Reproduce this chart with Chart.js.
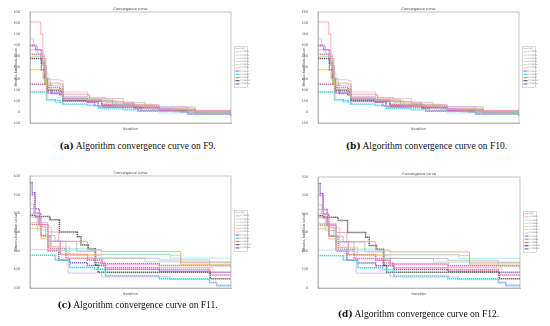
<!DOCTYPE html>
<html>
<head>
<meta charset="utf-8">
<script src="https://cdn.jsdelivr.net/npm/chart.js@4.4.1/dist/chart.umd.min.js"></script>
<style>
    body { margin: 0; background: #fff; width: 550px; height: 326px; position: relative; overflow: hidden; }
    canvas { position: absolute; }
    .caption { position: absolute; width: 275px; text-align: center; font-family: "Liberation Serif", "DejaVu Serif", serif; font-size: 9.5px; line-height: 12px; color: #111; }
    .caption b { font-family: "DejaVu Serif", serif; font-size: 9px; }
</style>
</head>
<body>
<canvas id="chartF9" width="275" height="135" style="left:0;top:0"></canvas>
<canvas id="chartF10" width="275" height="135" style="left:275px;top:0"></canvas>
<canvas id="chartF11" width="275" height="140" style="left:0;top:160px"></canvas>
<canvas id="chartF12" width="275" height="140" style="left:275px;top:160px"></canvas>
<div class="caption" style="left:0;top:140px"><b>(a)</b> Algorithm convergence curve on F9.</div>
<div class="caption" style="left:289px;top:140px"><b>(b)</b> Algorithm convergence curve on F10.</div>
<div class="caption" style="left:0;top:299px"><b>(c)</b> Algorithm convergence curve on F11.</div>
<div class="caption" style="left:281px;top:308px"><b>(d)</b> Algorithm convergence curve on F12.</div>
<script>
// Series names shared by all four panels
const seriesNames = ["PSO", "CTPSO1", "CTPSO2", "CTPSO3", "CTPSO4", "CTPSO5", "CTPSO6",
    "CTPSO7", "CTPSO8", "CTPSO9", "CTPSO10", "CTPSO11"];
const xTicks = [50, 100, 150, 200, 250, 300];

// Step points [iteration, best fitness] per series
const f9Steps = [
    [[20,560],[30,560],[36,480],[42,300],[48,200],[66,120],[100,100],[135,60],[170,30],[220,0],[300,-10]],
    [[20,810],[33,810],[35,700],[38,450],[42,300],[45,260],[62,250],[66,160],[100,150],[103,110],[120,95],[150,75],[165,60],[200,35],[250,10],[300,0]],
    [[20,500],[34,500],[38,420],[42,250],[50,200],[66,130],[100,115],[135,70],[190,30],[240,0],[300,-15]],
    [[20,175],[40,175],[44,100],[55,85],[66,65],[100,55],[120,25],[150,15],[200,-10],[300,-20]],
    [[20,590],[30,560],[36,520],[40,350],[45,290],[62,280],[66,180],[100,160],[103,120],[150,90],[165,65],[200,45],[250,15],[300,0]],
    [[20,380],[32,380],[38,300],[43,200],[62,190],[66,120],[100,100],[140,55],[190,20],[250,-5],[300,-20]],
    [[20,660],[25,600],[30,530],[37,420],[43,240],[62,230],[66,140],[100,130],[125,85],[180,45],[240,10],[300,-10]],
    [[20,250],[40,250],[43,200],[50,165],[62,155],[66,95],[100,85],[110,55],[120,45],[165,35],[170,15],[230,0],[300,-30]],
    [[20,180],[40,180],[43,110],[55,100],[62,85],[66,70],[100,60],[115,35],[150,25],[170,5],[240,-15],[300,-35]],
    [[20,520],[35,500],[40,300],[44,220],[62,210],[66,120],[100,105],[120,70],[165,50],[200,20],[250,0],[300,-25]],
    [[20,480],[30,480],[36,380],[41,250],[45,190],[62,180],[66,105],[100,95],[120,60],[165,40],[200,15],[250,-10],[300,-30]],
    [[20,600],[28,560],[36,440],[40,300],[44,170],[62,160],[66,100],[100,90],[115,45],[170,35],[175,10],[240,-20],[300,-35]]
];
const f10Steps = [
    [[20,840],[30,840],[36,720],[42,450],[48,300],[66,180],[100,150],[135,90],[170,45],[220,0],[300,-15]],
    [[20,1215],[33,1215],[35,1050],[38,675],[42,450],[45,390],[62,375],[66,240],[100,225],[103,165],[120,140],[150,110],[165,90],[200,50],[250,15],[300,0]],
    [[20,750],[34,750],[38,630],[42,375],[50,300],[66,195],[100,170],[135,105],[190,45],[240,0],[300,-20]],
    [[20,260],[40,260],[44,150],[55,130],[66,100],[100,80],[120,40],[150,20],[200,-15],[300,-30]],
    [[20,885],[30,840],[36,780],[40,525],[45,435],[62,420],[66,270],[100,240],[103,180],[150,135],[165,100],[200,70],[250,20],[300,0]],
    [[20,570],[32,570],[38,450],[43,300],[62,285],[66,180],[100,150],[140,80],[190,30],[250,-10],[300,-30]],
    [[20,990],[25,900],[30,795],[37,630],[43,360],[62,345],[66,210],[100,195],[125,130],[180,70],[240,15],[300,-15]],
    [[20,375],[40,375],[43,300],[50,250],[62,230],[66,140],[100,130],[110,80],[120,70],[165,50],[170,20],[230,0],[300,-45]],
    [[20,270],[40,270],[43,165],[55,150],[62,130],[66,105],[100,90],[115,50],[150,40],[170,10],[240,-20],[300,-50]],
    [[20,780],[35,750],[40,450],[44,330],[62,315],[66,180],[100,160],[120,105],[165,75],[200,30],[250,0],[300,-40]],
    [[20,720],[30,720],[36,570],[41,375],[45,285],[62,270],[66,160],[100,140],[120,90],[165,60],[200,20],[250,-15],[300,-45]],
    [[20,900],[28,840],[36,660],[40,450],[44,255],[62,240],[66,150],[100,135],[115,70],[170,50],[175,15],[240,-30],[300,-50]]
];
const f11Steps = [
    [[20,1050],[27,950],[33,860],[42,760],[55,700],[85,590],[112,520],[200,500],[270,480],[300,480]],
    [[20,960],[32,880],[45,800],[60,700],[100,610],[120,590],[230,470],[300,470]],
    [[20,900],[30,820],[45,700],[70,620],[110,520],[180,480],[270,440],[300,440]],
    [[20,610],[48,610],[60,600],[120,560],[215,520],[300,520]],
    [[20,1100],[25,1000],[35,850],[50,640],[75,550],[120,450],[200,420],[275,340],[300,340]],
    [[20,840],[28,840],[35,730],[45,640],[62,560],[215,550],[230,450],[300,450]],
    [[20,1000],[30,900],[45,600],[73,360],[120,320],[215,290],[270,255],[280,220],[300,220]],
    [[20,1200],[27,1050],[33,880],[45,700],[62,560],[100,500],[120,460],[200,440],[300,410]],
    [[20,550],[45,550],[55,500],[75,420],[110,400],[125,330],[200,300],[270,260],[280,230],[300,230]],
    [[20,880],[35,760],[48,620],[70,520],[110,470],[125,420],[200,400],[270,340],[300,330]],
    [[20,980],[28,965],[48,930],[61,800],[86,750],[91,660],[101,620],[111,445],[115,370],[271,300],[300,300]],
    [[20,1330],[23,1220],[27,1000],[35,760],[45,600],[60,500],[75,470],[100,440],[125,400],[200,380],[272,370],[300,370]]
];
const f12Steps = [
    [[20,850],[27,750],[33,660],[42,560],[55,500],[85,390],[112,320],[200,300],[270,280],[300,280]],
    [[20,760],[32,680],[45,600],[60,500],[100,410],[120,390],[230,270],[300,270]],
    [[20,700],[30,620],[45,500],[70,420],[110,320],[180,280],[270,240],[300,240]],
    [[20,410],[48,410],[60,400],[120,360],[215,320],[300,320]],
    [[20,900],[25,800],[35,650],[50,440],[75,350],[120,250],[200,220],[275,140],[300,140]],
    [[20,640],[28,640],[35,530],[45,440],[62,360],[215,350],[230,250],[300,250]],
    [[20,800],[30,700],[45,400],[73,160],[120,120],[215,90],[270,55],[280,20],[300,20]],
    [[20,1000],[27,850],[33,680],[45,500],[62,360],[100,300],[120,260],[200,240],[300,210]],
    [[20,350],[45,350],[55,300],[75,220],[110,200],[125,130],[200,100],[270,60],[280,30],[300,30]],
    [[20,680],[35,560],[48,420],[70,320],[110,270],[125,220],[200,200],[270,140],[300,130]],
    [[20,780],[28,765],[48,730],[61,600],[86,550],[91,460],[101,420],[111,245],[115,170],[271,100],[300,100]],
    [[20,1130],[23,1020],[27,800],[35,560],[45,400],[60,300],[75,270],[100,240],[125,200],[200,180],[272,170],[300,170]]
];

// Styling
const lineColors = ["#a9a9c9", "#f28b82", "#8fd98f", "#8fe0f0", "#f4a6c8", "#e8b64a",
    "#c9a6e8", "#d860d0", "#40d0e0", "#e87880", "#5a5a5a", "#8a5ce0"];
const markerSeries = [7, 8, 9, 10, 11];
const tinyFont = { family: "DejaVu Sans", size: 3.5 };

/**
 * Title, plot frame and the little boxed legend (MATLAB look)
 */
const frameLegend = {
    id: "frameLegend",
    afterDraw(chart) {
        const ctx = chart.ctx;
        const a = chart.chartArea;
        ctx.save();
        ctx.strokeStyle = "#9a9a9a";
        ctx.lineWidth = 0.6;
        ctx.strokeRect(a.left, a.top, a.right - a.left, a.bottom - a.top);

        ctx.fillStyle = "#444";
        ctx.font = "3.5px 'DejaVu Sans'";
        ctx.textAlign = "center";
        ctx.textBaseline = "bottom";
        ctx.fillText("Convergence curve", (a.left + a.right) / 2, a.top - 1.5);

        // legend box
        const lx = a.right + 3.5, ly = a.top + 34.5, lw = 13, lh = 41;
        ctx.fillStyle = "#fff";
        ctx.fillRect(lx, ly, lw, lh);
        ctx.strokeStyle = "#b0b0b0";
        ctx.lineWidth = 0.5;
        ctx.strokeRect(lx, ly, lw, lh);
        ctx.textAlign = "left";
        ctx.textBaseline = "middle";
        ctx.font = "2.2px 'DejaVu Sans'";
        chart.data.datasets.forEach((ds, i) => {
            const y = ly + 2.2 + i * 3.2;
            ctx.strokeStyle = ds.borderColor;
            ctx.lineWidth = markerSeries.includes(i) ? 1.2 : 0.7;
            ctx.beginPath();
            ctx.moveTo(lx + 1, y);
            ctx.lineTo(lx + 5, y);
            ctx.stroke();
            ctx.fillStyle = "#777";
            ctx.fillText(ds.label, lx + 5.8, y);
        });
        ctx.restore();
    }
};

function makeChart(canvasId, steps, yMin, yMax, yStep, pad) {
    const canvas = document.getElementById(canvasId);
    return new Chart(canvas, {
        type: "line",
        data: {
            datasets: steps.map((pts, i) => ({
                label: seriesNames[i],
                data: pts.map(p => ({ x: p[0], y: p[1] })),
                borderColor: lineColors[i],
                // marker series: beaded look of the dense MATLAB markers
                borderWidth: markerSeries.includes(i) ? 1.5 : 0.7,
                borderDash: markerSeries.includes(i) ? [1.3, 0.7] : [],
                pointRadius: 0,
                stepped: true,
                fill: false
            }))
        },
        options: {
            responsive: false,
            animation: false,
            devicePixelRatio: 1,
            layout: { padding: pad },
            plugins: { legend: { display: false }, title: { display: false }, tooltip: { enabled: false } },
            scales: {
                x: {
                    type: "linear", min: 20, max: 300,
                    afterBuildTicks: s => { s.ticks = xTicks.map(v => ({ value: v })); },
                    afterFit: s => { s.height = 8; },
                    ticks: { font: tinyFont, color: "#555", padding: 1, maxRotation: 0 },
                    grid: { display: false },
                    border: { color: "#9a9a9a", width: 0.6 },
                    title: { display: true, text: "Iteration", font: tinyFont, color: "#555", padding: 0 }
                },
                y: {
                    min: yMin, max: yMax,
                    afterFit: s => { s.width = 16; },
                    ticks: { stepSize: yStep, font: tinyFont, color: "#555", padding: 2 },
                    grid: { display: false },
                    border: { color: "#9a9a9a", width: 0.6 },
                    title: { display: true, text: "Fitness function value", font: tinyFont, color: "#555", padding: 0 }
                }
            }
        },
        plugins: [frameLegend]
    });
}

makeChart("chartF9", f9Steps, -100, 900, 100, { left: 14, right: 44, top: 12, bottom: 4 });
makeChart("chartF10", f10Steps, -150, 1350, 150, { left: 27, right: 31, top: 12, bottom: 4 });
makeChart("chartF11", f11Steps, 200, 1400, 200, { left: 14, right: 44, top: 16, bottom: 4 });
makeChart("chartF12", f12Steps, 0, 1200, 200, { left: 27, right: 30, top: 17, bottom: 4 });
</script>
</body>
</html>
